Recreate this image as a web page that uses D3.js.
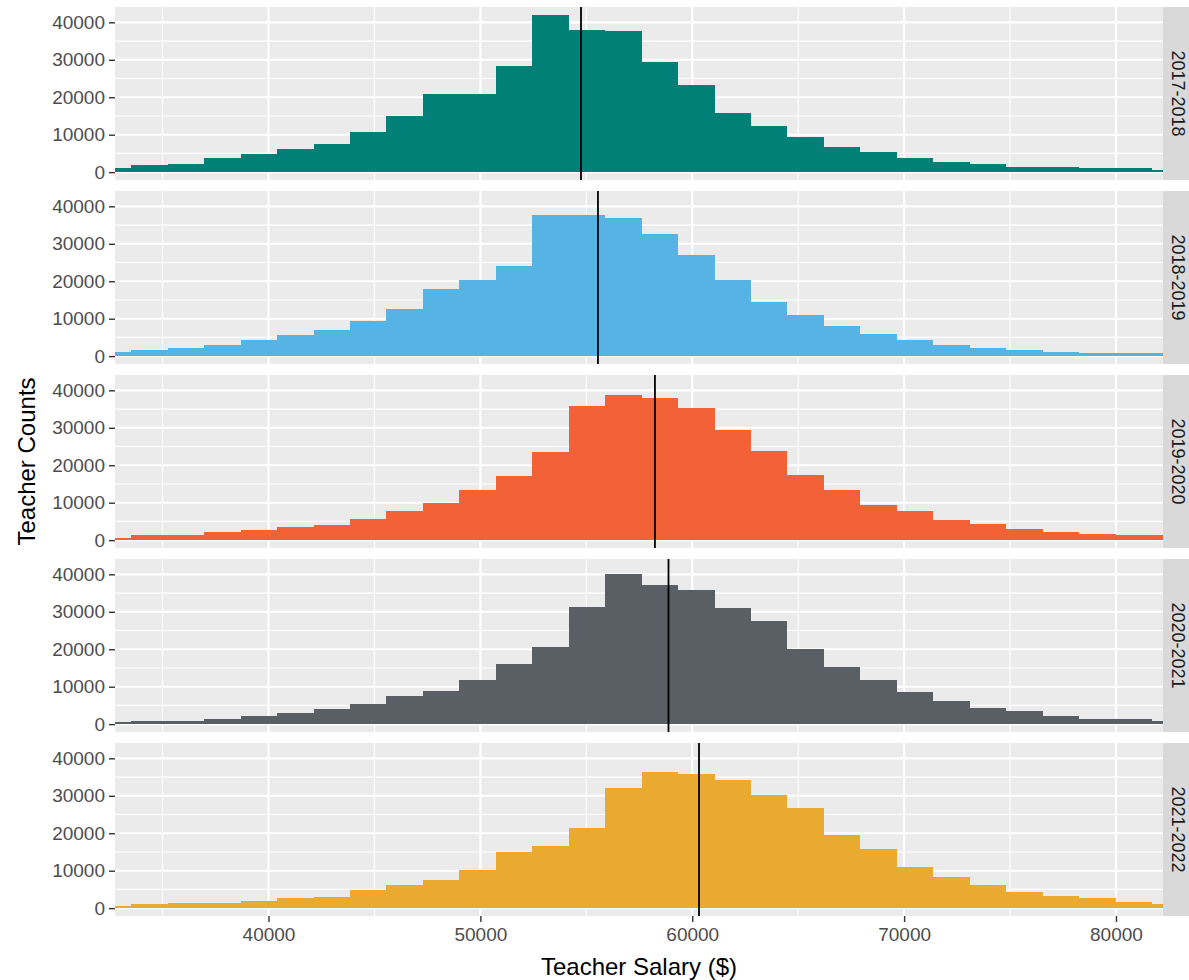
<!DOCTYPE html>
<html>
<head>
<meta charset="utf-8">
<script src="https://cdn.jsdelivr.net/npm/d3@7"></script>
<style>
  body { margin: 0; background: #ffffff; }
  svg { display: block; font-family: "Liberation Sans", Arial, sans-serif; }
</style>
</head>
<body>
<div id="chart"></div>
<script>
// facet labels and fill colours
const years = ["2017-2018", "2018-2019", "2019-2020", "2020-2021", "2021-2022"];
const fills = ["#018078", "#56B4E5", "#F26236", "#595F64", "#EAAA2F"];

// lower edge of each salary bin ($), all bins share the same width
const binStarts = [31805, 33525, 35246, 36966, 38687, 40407, 42128, 43848, 45569, 47290,
                   49010, 50730, 52451, 54172, 55892, 57612, 59333, 61054, 62774, 64494,
                   66215, 67936, 69656, 71376, 73097, 74818, 76538, 78258, 79979, 81700];
const binWidth = 1720.5;

// teacher counts per bin, one array per school year
const counts2017 = [1200, 1800, 2300, 3700, 4800, 6100, 7600, 10600, 15000, 21000,
                    21000, 28400, 42000, 38000, 37600, 29300, 23200, 15700, 12200, 9300,
                    6700, 5300, 3900, 2700, 2200, 1400, 1400, 1000, 1000, 450];
const counts2018 = [1150, 1700, 2200, 3100, 4400, 5700, 7000, 9300, 12600, 17800,
                    20400, 24000, 37800, 37800, 37000, 32700, 27000, 20200, 14500, 10900,
                    8000, 6000, 4300, 3000, 2100, 1700, 1200, 900, 900, 900];
const counts2019 = [450, 1300, 1300, 2200, 2600, 3500, 4000, 5600, 7800, 10000,
                    13500, 17100, 23600, 35700, 38800, 37900, 35300, 29500, 23900, 17400,
                    13400, 9500, 7800, 5500, 4300, 2900, 2100, 1700, 1250, 1250];
const counts2020 = [450, 900, 900, 1400, 2200, 3100, 4000, 5300, 7500, 8800,
                    11900, 16000, 20700, 31400, 40200, 37200, 35900, 31100, 27500, 20000,
                    15200, 11900, 8700, 6100, 4400, 3600, 2200, 1400, 1400, 900];
const counts2021 = [600, 1000, 1400, 1400, 1900, 2600, 3000, 4800, 6200, 7500,
                    10200, 14900, 16700, 21500, 32000, 36400, 35900, 34200, 30300, 26800,
                    19400, 15900, 11000, 8400, 6100, 4300, 3300, 2600, 1700, 1200];

// mean salary per year (vertical line)
const meanSalary = [54750, 55550, 58240, 58880, 60320];

// tick values
const xTicks = [40000, 50000, 60000, 70000, 80000];
const xMinor = [35000, 45000, 55000, 65000, 75000];
const yTicks = [0, 10000, 20000, 30000, 40000];
const yMinor = [5000, 15000, 25000, 35000];

const allCounts = [counts2017, counts2018, counts2019, counts2020, counts2021];

// set the dimensions of the graph
let width = 1189,
  height = 980,
  panelLeft = 115,
  panelRight = 1163,
  panelTop = 7,
  panelHeight = 173,
  panelStep = 184,
  stripWidth = 38;

let svg = d3.select("#chart").append("svg")
  .attr("width", width)
  .attr("height", height);

// set the ranges
let x = d3.scaleLinear().domain([32755, 82220]).range([panelLeft, panelRight]);
let y = d3.scaleLinear().domain([-2100, 44100]).range([panelHeight, 0]);

svg.append("defs").append("clipPath")
  .attr("id", "panel-clip")
  .append("rect")
  .attr("x", panelLeft)
  .attr("y", 0)
  .attr("width", panelRight - panelLeft)
  .attr("height", panelHeight);

years.forEach(function (year, i) {
  let counts = allCounts[i];
  let bins = binStarts.map(function (s, j) { return { x0: s, x1: s + binWidth, n: counts[j] }; });

  let g = svg.append("g")
    .attr("transform", "translate(0," + (panelTop + i * panelStep) + ")");

  // panel background
  g.append("rect")
    .attr("x", panelLeft)
    .attr("y", 0)
    .attr("width", panelRight - panelLeft)
    .attr("height", panelHeight)
    .attr("fill", "#EBEBEB");

  // minor grid
  g.selectAll(".xminor").data(xMinor).enter().append("line")
    .attr("x1", function (d) { return x(d); })
    .attr("x2", function (d) { return x(d); })
    .attr("y1", 0).attr("y2", panelHeight)
    .attr("stroke", "#ffffff").attr("stroke-width", 1.1);
  g.selectAll(".yminor").data(yMinor).enter().append("line")
    .attr("x1", panelLeft).attr("x2", panelRight)
    .attr("y1", function (d) { return y(d); })
    .attr("y2", function (d) { return y(d); })
    .attr("stroke", "#ffffff").attr("stroke-width", 1.1);

  // major grid
  g.selectAll(".xmajor").data(xTicks).enter().append("line")
    .attr("x1", function (d) { return x(d); })
    .attr("x2", function (d) { return x(d); })
    .attr("y1", 0).attr("y2", panelHeight)
    .attr("stroke", "#ffffff").attr("stroke-width", 2.1);
  g.selectAll(".ymajor").data(yTicks).enter().append("line")
    .attr("x1", panelLeft).attr("x2", panelRight)
    .attr("y1", function (d) { return y(d); })
    .attr("y2", function (d) { return y(d); })
    .attr("stroke", "#ffffff").attr("stroke-width", 2.1);

  // histogram bars
  g.append("g")
    .attr("clip-path", "url(#panel-clip)")
    .selectAll("rect")
    .data(bins)
    .enter().append("rect")
    .attr("x", function (d) { return x(d.x0); })
    .attr("width", function (d) { return x(d.x1) - x(d.x0); })
    .attr("y", function (d) { return y(d.n); })
    .attr("height", function (d) { return y(0) - y(d.n); })
    .attr("fill", fills[i])
    .attr("shape-rendering", "crispEdges");

  // mean line
  g.append("line")
    .attr("x1", x(meanSalary[i]))
    .attr("x2", x(meanSalary[i]))
    .attr("y1", 0)
    .attr("y2", panelHeight)
    .attr("stroke", "#000000")
    .attr("stroke-width", 1.8);

  // y axis
  let ya = g.append("g")
    .attr("transform", "translate(" + panelLeft + ",0)")
    .call(d3.axisLeft(y).tickValues(yTicks).tickSize(6).tickPadding(4).tickFormat(d3.format("d")));
  ya.select(".domain").remove();
  ya.selectAll("line").attr("stroke", "#333333").attr("stroke-width", 1.4);
  ya.selectAll("text")
    .attr("fill", "#4D4D4D")
    .style("font-size", "19px")
    .style("font-family", "Liberation Sans, Arial, sans-serif");

  // facet strip
  g.append("rect")
    .attr("x", panelRight)
    .attr("y", 0)
    .attr("width", stripWidth)
    .attr("height", panelHeight)
    .attr("fill", "#D9D9D9");
  g.append("text")
    .attr("transform", "translate(" + (panelRight + 15) + "," + (panelHeight / 2) + ") rotate(90)")
    .attr("text-anchor", "middle")
    .attr("dy", "0.35em")
    .attr("fill", "#1A1A1A")
    .style("font-size", "18px")
    .text(year);

  // x axis on the last panel only
  if (i === years.length - 1) {
    let xa = g.append("g")
      .attr("transform", "translate(0," + panelHeight + ")")
      .call(d3.axisBottom(x).tickValues(xTicks).tickSize(6).tickPadding(6).tickFormat(d3.format("d")));
    xa.select(".domain").remove();
    xa.selectAll("line").attr("stroke", "#333333").attr("stroke-width", 1.4);
    xa.selectAll("text")
      .attr("fill", "#4D4D4D")
      .style("font-size", "19px")
      .style("font-family", "Liberation Sans, Arial, sans-serif");
  }
});

// axis titles
svg.append("text")
  .attr("x", (panelLeft + panelRight) / 2)
  .attr("y", 975)
  .attr("text-anchor", "middle")
  .attr("fill", "#000000")
  .style("font-size", "24px")
  .text("Teacher Salary ($)");

svg.append("text")
  .attr("transform", "translate(35," + (panelTop + (4 * panelStep + panelHeight) / 2) + ") rotate(-90)")
  .attr("text-anchor", "middle")
  .attr("fill", "#000000")
  .style("font-size", "24px")
  .text("Teacher Counts");
</script>
</body>
</html>
